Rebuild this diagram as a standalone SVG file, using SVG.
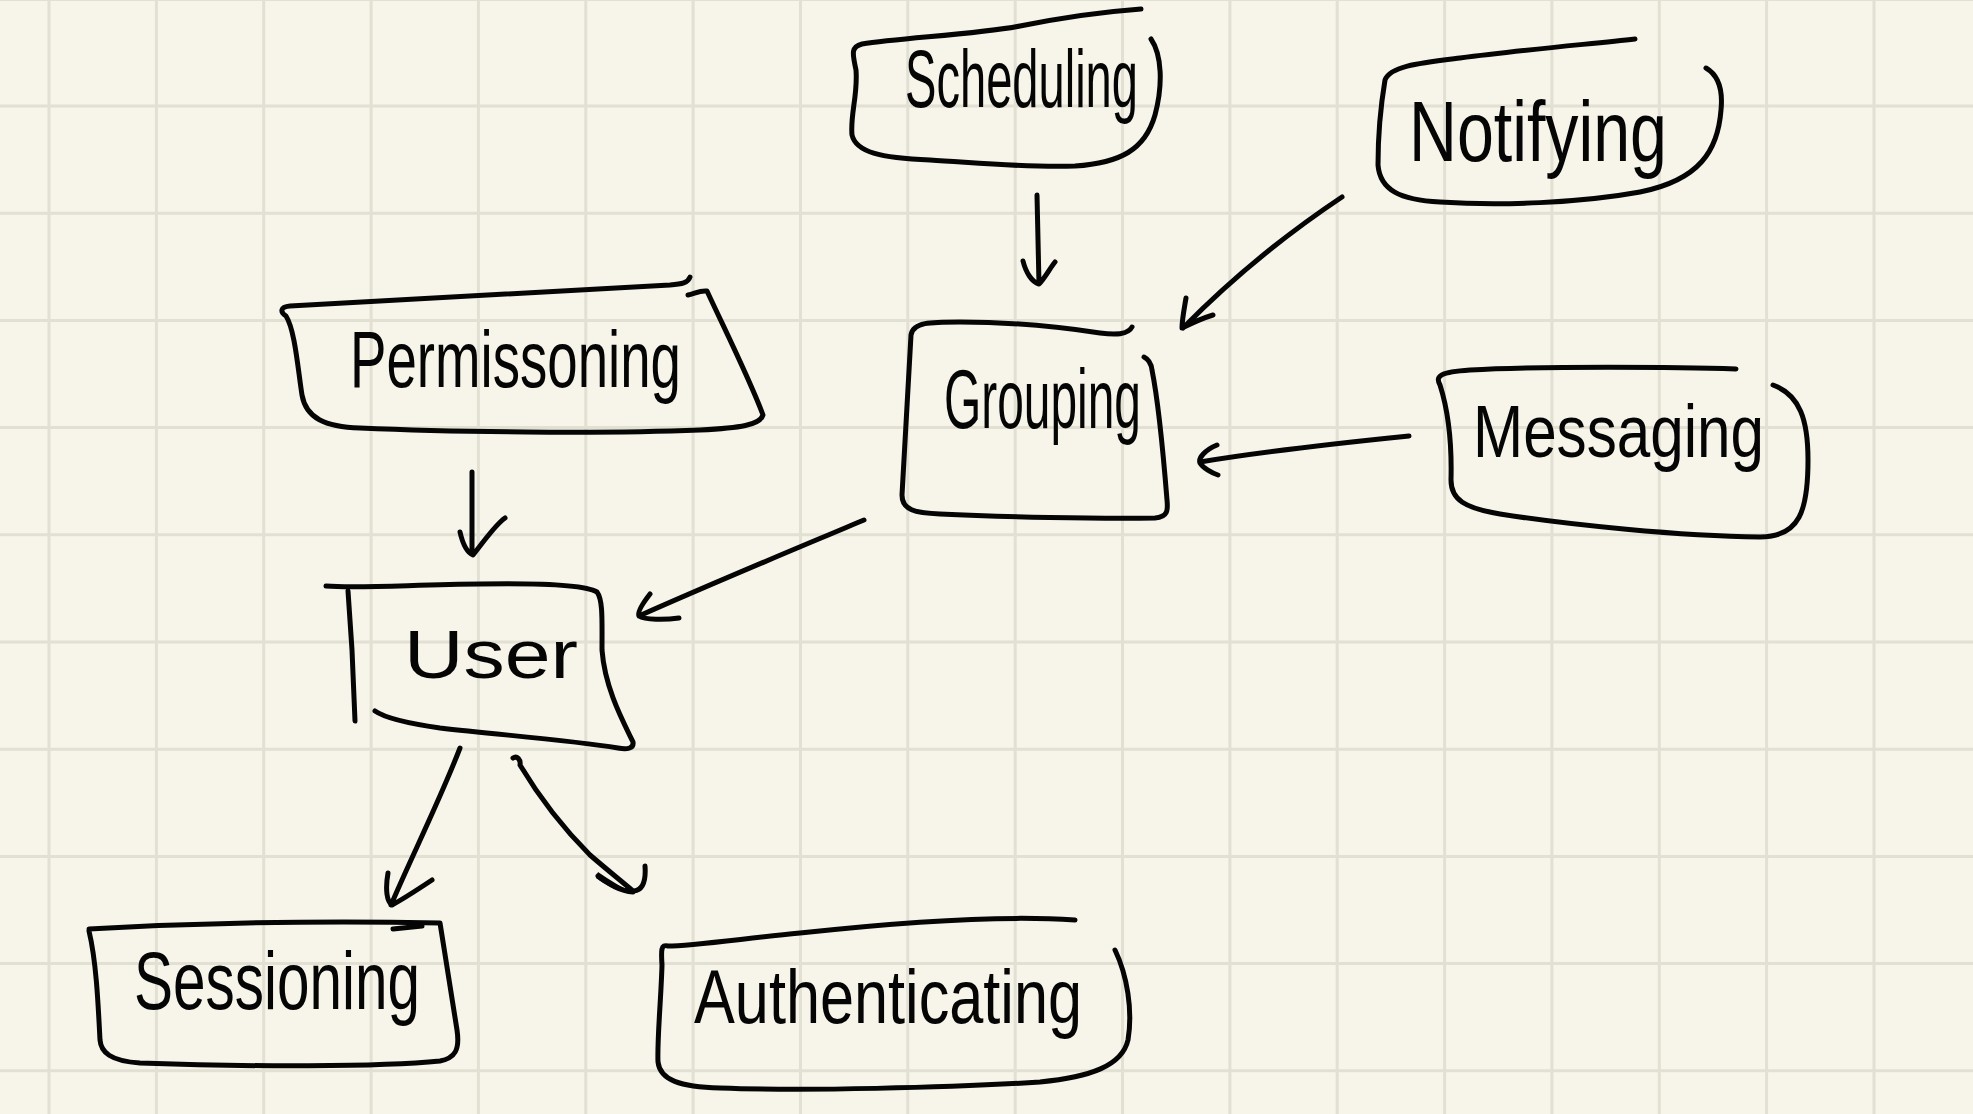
<svg xmlns="http://www.w3.org/2000/svg" width="1973" height="1114" viewBox="0 0 1973 1114">
<style>
.bg{fill:#f7f5e9}
.grid{stroke:#e2dfd3;stroke-width:3;fill:none}
.ink{stroke:#050505;stroke-width:5;fill:none;stroke-linecap:round;stroke-linejoin:round}
.lbl{font-family:"Liberation Sans Narrow","Liberation Sans",Arial,sans-serif;fill:#050505}
</style>
<rect class="bg" x="0" y="0" width="1973" height="1114"/>
<path class="grid" d="M49,0V1114M156.4,0V1114M263.7,0V1114M371.1,0V1114M478.4,0V1114M585.8,0V1114M693.1,0V1114M800.5,0V1114M907.8,0V1114M1015.2,0V1114M1122.5,0V1114M1229.9,0V1114M1337.2,0V1114M1444.6,0V1114M1551.9,0V1114M1659.3,0V1114M1766.6,0V1114M1874,0V1114M0,-0.5H1973M0,106H1973M0,213.2H1973M0,320.4H1973M0,427.6H1973M0,534.8H1973M0,642H1973M0,749.2H1973M0,856.4H1973M0,963.6H1973M0,1070.8H1973"/>

<g id="scheduling">
<path class="ink" d="M1141,9 C1100,12 1060,18 1020,26 C980,34 900,38 862,44 C850,47 853,55 856,70 C858,95 850,115 852,135 C856,152 880,158 930,160 C980,163 1030,168 1075,166 C1120,163 1145,150 1155,115 C1163,85 1162,55 1151,39"/>
<text class="lbl" x="905" y="107" font-size="82" textLength="233" lengthAdjust="spacingAndGlyphs">Scheduling</text>
</g>

<g id="notifying">
<path class="ink" d="M1635,39 C1590,44 1520,50 1460,58 C1420,63 1390,66 1385,80 C1380,110 1378,140 1378,165 C1380,190 1400,200 1440,202 C1500,206 1580,203 1640,192 C1700,180 1718,150 1721,110 C1723,90 1718,75 1706,68"/>
<text class="lbl" x="1409" y="161" font-size="86" textLength="258" lengthAdjust="spacingAndGlyphs">Notifying</text>
</g>

<g id="grouping">
<path class="ink" d="M1132,327 C1128,335 1115,335 1100,333 C1060,327 1010,322 960,322 C930,322 913,322 911,335 C908,380 905,450 902,495 C902,510 915,513 940,514 C1000,517 1100,519 1155,518 C1168,517 1168,510 1167,500 C1163,450 1158,400 1152,370 C1151,362 1148,359 1144,357"/>
<text class="lbl" x="944" y="428" font-size="84" textLength="197" lengthAdjust="spacingAndGlyphs">Grouping</text>
</g>

<g id="messaging">
<path class="ink" d="M1736,369 C1680,367 1540,366 1470,370 C1440,372 1435,376 1440,385 C1448,410 1452,440 1451,480 C1451,500 1465,508 1500,514 C1570,525 1680,536 1760,537 C1800,537 1808,510 1808,460 C1808,420 1800,395 1773,385"/>
<text class="lbl" x="1473" y="457" font-size="74" textLength="291" lengthAdjust="spacingAndGlyphs">Messaging</text>
</g>

<g id="permissoning">
<path class="ink" d="M690,277 C688,283 682,284 670,285 C600,290 450,297 290,306 C280,307 280,312 286,316 C295,330 298,370 302,395 C306,418 325,427 360,428 C450,432 600,434 700,430 C740,428 760,425 763,415 C750,380 725,330 707,291 C700,290 694,294 688,295"/>
<text class="lbl" x="350" y="387" font-size="80" textLength="331" lengthAdjust="spacingAndGlyphs">Permissoning</text>
</g>

<g id="user">
<path class="ink" d="M326,586 C360,589 420,584 480,584 C540,583 585,585 597,592 C603,600 602,620 602,650 C605,690 625,725 633,742 C634,748 628,750 618,748 C570,740 500,735 440,728 C405,723 385,718 375,711"/>
<path class="ink" d="M348,591 L352,650 L355,721"/>
<text class="lbl" x="404" y="678" font-size="68" textLength="174" lengthAdjust="spacingAndGlyphs">User</text>
</g>

<g id="sessioning">
<path class="ink" d="M89,929 C180,924 300,920 440,923 C446,960 452,1000 457,1030 C460,1050 455,1058 440,1061 C380,1067 250,1067 140,1063 C110,1061 101,1052 100,1040 C98,1000 96,960 89,931"/>
<path class="ink" d="M393,929 L422,926"/>
<text class="lbl" x="134" y="1009" font-size="82" textLength="286" lengthAdjust="spacingAndGlyphs">Sessioning</text>
</g>

<g id="authenticating">
<path class="ink" d="M1075,920 C1000,915 900,922 800,933 C740,939 690,946 668,946 C661,944 661,950 662,965 C661,1000 657,1040 658,1062 C660,1080 680,1087 720,1088 C800,1091 950,1088 1040,1082 C1090,1077 1122,1066 1128,1040 C1133,1010 1127,975 1115,950"/>
<text class="lbl" x="694" y="1023" font-size="76" textLength="388" lengthAdjust="spacingAndGlyphs">Authenticating</text>
</g>

<g id="connectors">
<path class="ink" d="M1037,195 L1039,284 M1023,261 C1026,273 1032,282 1039,284 C1045,278 1050,268 1055,262"/>
<path class="ink" d="M1342,197 C1300,225 1240,270 1183,328 M1186,298 C1184,310 1182,320 1182,328 C1192,323 1203,318 1213,315"/>
<path class="ink" d="M1409,436 C1340,443 1260,452 1200,462 M1217,445 C1205,450 1198,458 1200,463 C1203,468 1212,473 1218,475"/>
<path class="ink" d="M864,520 C800,547 720,580 639,616 M650,594 C643,603 637,612 639,616 C645,620 665,620 679,618"/>
<path class="ink" d="M472,472 L472,553 M460,532 C463,545 468,553 473,555 C485,540 495,525 505,518"/>
<path class="ink" d="M460,748 C440,800 410,860 391,905 M388,873 C385,890 387,902 392,905 C405,898 420,888 432,880"/>
<path class="ink" d="M513,758 C517,755 521,760 520,765 C535,790 560,825 590,855 C605,868 620,880 633,891 M598,876 C610,885 620,891 633,892 M645,866 C646,880 644,890 634,891"/>
<path d="M598,872 C610,880 622,888 633,892 C620,893 605,885 596,878 Z" fill="#050505"/>
</g>
</svg>
